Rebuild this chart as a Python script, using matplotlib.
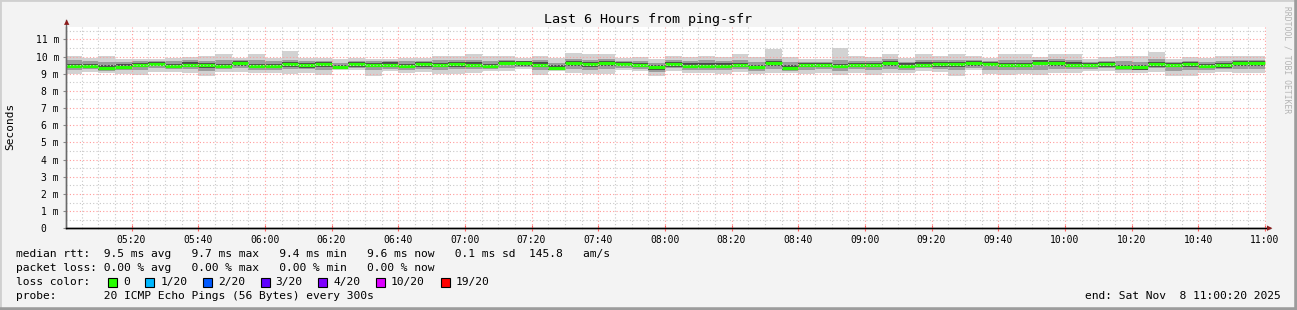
import numpy as np
import matplotlib
matplotlib.use('Agg')
from matplotlib import pyplot as plt
from matplotlib.patches import Rectangle

W, H = 1297, 310

# median rtt per 5 minute step (ms), 05:00 -> 11:00
med = [9.44, 9.45, 9.35, 9.42, 9.50, 9.56, 9.45, 9.53, 9.48, 9.45, 9.60, 9.45, 9.45, 9.55, 9.48,
       9.55, 9.40, 9.55, 9.52, 9.53, 9.45, 9.55, 9.52, 9.55, 9.53, 9.45, 9.63, 9.60, 9.53, 9.35,
       9.60, 9.55, 9.60, 9.58, 9.50, 9.37, 9.55, 9.47, 9.47, 9.47, 9.50, 9.40, 9.60, 9.35, 9.50,
       9.52, 9.45, 9.50, 9.50, 9.60, 9.47, 9.53, 9.55, 9.55, 9.60, 9.57, 9.52, 9.50, 9.65, 9.60,
       9.53, 9.50, 9.55, 9.40, 9.37, 9.55, 9.50, 9.55, 9.45, 9.48, 9.60, 9.60]
# smoke: fastest / slowest ping
smoke_lo = [9.00, 9.12, 9.06, 9.00, 8.92, 9.12, 9.12, 9.06, 8.87, 9.12, 9.12, 9.06, 9.06, 9.00, 9.06,
            8.92, 9.19, 9.19, 8.87, 9.15, 9.06, 9.12, 8.96, 9.00, 9.06, 9.15, 9.15, 9.25, 8.92, 9.15,
            9.06, 8.96, 9.00, 9.19, 9.15, 8.87, 9.15, 9.06, 9.06, 9.00, 9.12, 9.00, 9.06, 9.06, 9.00,
            9.06, 8.92, 9.06, 8.92, 9.06, 9.06, 9.15, 9.12, 8.87, 9.19, 8.96, 8.92, 8.96, 8.92, 9.06,
            9.06, 9.15, 9.15, 9.06, 9.06, 9.12, 8.87, 8.87, 9.06, 9.12, 9.06, 9.06]
smoke_hi = [10.02, 9.92, 10.06, 9.88, 9.88, 9.83, 9.92, 9.96, 10.06, 10.17, 9.92, 10.17, 9.92, 10.35, 9.92,
            9.92, 9.88, 9.92, 9.88, 9.88, 9.92, 9.92, 10.02, 10.06, 10.17, 10.06, 10.02, 9.92, 10.02, 9.92,
            10.23, 10.17, 10.15, 9.92, 9.96, 9.83, 10.02, 9.96, 10.06, 9.96, 10.17, 9.96, 10.46, 9.96, 9.88,
            9.88, 10.50, 10.02, 9.96, 10.17, 9.92, 10.17, 10.02, 10.17, 10.06, 9.92, 10.17, 10.17, 9.96, 10.17,
            10.17, 9.83, 9.96, 10.06, 10.02, 10.25, 9.88, 9.96, 9.92, 10.06, 10.02, 10.02]
# smoke: inner (denser) part
inner_lo = [9.22, 9.28, 9.18, 9.20, 9.22, 9.34, 9.26, 9.28, 9.18, 9.28, 9.34, 9.24, 9.24, 9.26, 9.26,
            9.22, 9.28, 9.34, 9.20, 9.30, 9.24, 9.30, 9.24, 9.26, 9.26, 9.28, 9.36, 9.38, 9.24, 9.24,
            9.30, 9.24, 9.28, 9.36, 9.30, 9.12, 9.32, 9.24, 9.24, 9.22, 9.30, 9.18, 9.30, 9.18, 9.22,
            9.26, 9.18, 9.26, 9.22, 9.30, 9.24, 9.32, 9.30, 9.20, 9.36, 9.24, 9.22, 9.22, 9.24, 9.30,
            9.28, 9.30, 9.32, 9.22, 9.20, 9.32, 9.18, 9.20, 9.24, 9.28, 9.30, 9.30]
inner_hi = [9.78, 9.72, 9.68, 9.70, 9.72, 9.76, 9.72, 9.78, 9.75, 9.80, 9.78, 9.82, 9.74, 9.80, 9.72,
            9.76, 9.64, 9.76, 9.74, 9.74, 9.72, 9.76, 9.78, 9.80, 9.82, 9.75, 9.82, 9.76, 9.78, 9.64,
            9.84, 9.82, 9.84, 9.76, 9.74, 9.62, 9.78, 9.74, 9.78, 9.72, 9.80, 9.70, 9.88, 9.66, 9.70,
            9.70, 9.80, 9.76, 9.74, 9.84, 9.70, 9.82, 9.78, 9.80, 9.80, 9.74, 9.80, 9.80, 9.82, 9.84,
            9.82, 9.68, 9.76, 9.72, 9.70, 9.84, 9.70, 9.76, 9.70, 9.76, 9.80, 9.80]

stats_line = "median rtt:  9.5 ms avg   9.7 ms max   9.4 ms min   9.6 ms now   0.1 ms sd  145.8   am/s"
loss_line = "packet loss: 0.00 % avg   0.00 % max   0.00 % min   0.00 % now"
probe_line = "probe:       20 ICMP Echo Pings (56 Bytes) every 300s"
end_line = "end: Sat Nov  8 11:00:20 2025"
loss_labels = ['0', '1/20', '2/20', '3/20', '4/20', '10/20', '19/20']
loss_colors = ['#26ff00', '#00b8ff', '#0059ff', '#5e00ff', '#7e00ff', '#dd00ff', '#ff0000']

MONO = 'DejaVu Sans Mono'
plt.rcParams['font.family'] = MONO

fig = plt.figure(figsize=(W / 100, H / 100), dpi=100, facecolor='#f3f3f3')
ax = fig.add_axes([66 / W, 1 - 228.3 / H, 1200 / W, 201.3 / H])
ax.set_facecolor('white')

def fx(x):
    return x / W

def fy(y):
    return 1 - y / H

med = np.array(med)
edges = np.arange(0, 361, 5)
ax.stairs(smoke_hi, edges, baseline=smoke_lo, fill=True, color='#d2d2d2', lw=0)
ax.stairs(inner_hi, edges, baseline=inner_lo, fill=True, color='#9c9c9c', lw=0)
ax.stairs(med + 0.13, edges, baseline=med - 0.13, fill=True, color='#4d4d4d', lw=0)
ax.hlines(med, edges[:-1], edges[1:], color='#26ff00', lw=2.3)

ax.set_xlim(1 / 3, 360 + 1 / 3)
ax.set_ylim(0, 11.72)

xt = np.arange(20, 361, 20)
ax.set_xticks(xt, labels=['%02d:%02d' % (5 + m // 60, m % 60) for m in xt])
ax.set_xticks(np.arange(5, 361, 5), minor=True)
yt = np.arange(0, 12)
ax.set_yticks(yt, labels=['0  '] + ['%d m' % v for v in yt[1:]])
ax.set_yticks(np.arange(0.5, 11.6, 1), minor=True)

ax.set_axisbelow(False)
ax.grid(which='minor', color='#c8c8c8', ls=(0, (1, 2)), lw=0.8)
ax.grid(which='major', color='#ff9a9a', ls=(0, (1, 2)), lw=0.8)

ax.tick_params(axis='x', which='major', direction='inout', length=4, color='#ff6060',
               pad=2.5, labelsize=7, labelcolor='black')
ax.tick_params(axis='x', which='minor', direction='inout', length=2, color='#aaaaaa')
ax.tick_params(axis='y', which='major', direction='out', length=2.5, color='#888888',
               pad=2.5, labelsize=7)
ax.tick_params(axis='y', which='minor', length=0)

for s in ['top', 'right']:
    ax.spines[s].set_visible(False)
ax.spines['left'].set_color('#6a6a6a')
ax.spines['bottom'].set_color('black')
ax.spines['left'].set_linewidth(1.0)
ax.spines['bottom'].set_linewidth(1.0)

# axis arrows
fig.add_artist(plt.Line2D([fx(66), fx(66)], [fy(228), fy(20)], color='#6a6a6a', lw=1.0))
fig.add_artist(plt.Line2D([fx(66), fx(1270)], [fy(228.3), fy(228.3)], color='black', lw=1.0))
fig.text(fx(66.5), fy(22), '\u25b2', color='#8b1a1a', fontsize=5, ha='center', va='center',
         family='DejaVu Sans')
fig.text(fx(1270), fy(228.3), '\u25b6', color='#8b1a1a', fontsize=5, ha='center', va='center',
         family='DejaVu Sans')

fig.text(0.5, fy(19), 'Last 6 Hours from ping-sfr', ha='center', va='center', fontsize=9.6)
fig.text(fx(10), fy(126), 'Seconds', rotation=90, ha='center', va='center', fontsize=8)
fig.text(fx(1287), fy(60), 'RRDTOOL / TOBI OETIKER', rotation=270, ha='center', va='center',
         fontsize=5.8, color='#b4b4b4')

fs = 8.12
fig.text(fx(16), fy(254), stats_line, ha='left', va='center', fontsize=fs)
fig.text(fx(16), fy(268), loss_line, ha='left', va='center', fontsize=fs)
fig.text(fx(16), fy(282), 'loss color:', ha='left', va='center', fontsize=fs)
fig.text(fx(16), fy(296), probe_line, ha='left', va='center', fontsize=fs)
fig.text(fx(1281), fy(296), end_line, ha='right', va='center', fontsize=fs)

cw = 6.8
bx = 108
for lab, col in zip(loss_labels, loss_colors):
    fig.add_artist(Rectangle((fx(bx), fy(286.5)), 9 / W, 9 / H, transform=fig.transFigure,
                             facecolor=col, edgecolor='black', lw=0.8))
    fig.text(fx(bx + 15), fy(282), lab, ha='left', va='center', fontsize=fs)
    bx = bx + 15 + len(lab) * cw + 15.5

# outer frame
fig.add_artist(plt.Line2D([0, 0, 1], [0, 1, 1], transform=fig.transFigure, color='#d0d0d0', lw=2))
fig.add_artist(plt.Line2D([0, 1, 1], [0, 0, 1], transform=fig.transFigure, color='#9c9c9c', lw=4))

fig.savefig('out.png', dpi=100, facecolor=fig.get_facecolor())
